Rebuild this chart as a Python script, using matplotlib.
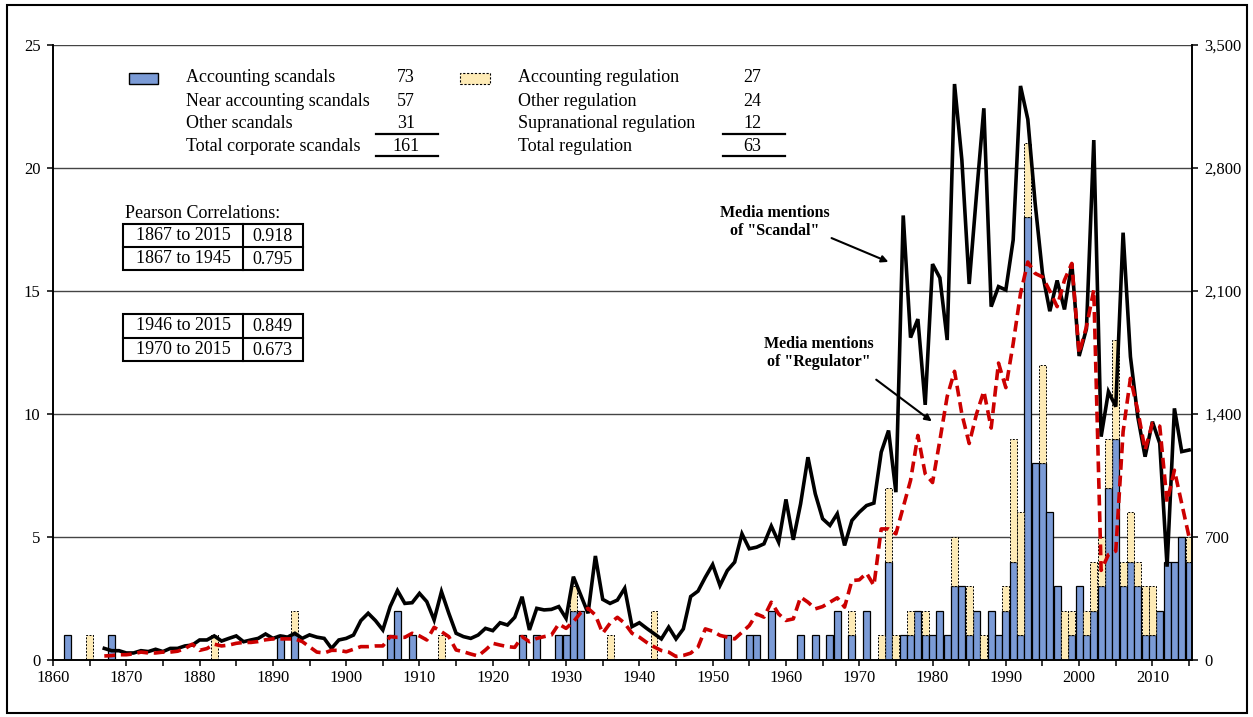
import numpy as np
import matplotlib.pyplot as plt
from matplotlib.patches import Rectangle
from matplotlib.lines import Line2D
from matplotlib.ticker import FuncFormatter, MultipleLocator

plt.rcParams['font.family'] = ['Liberation Serif', 'DejaVu Serif']

# corporate scandals per year (blue bars)
scandal_years = [1862, 1868, 1891, 1893, 1906, 1907, 1909, 1924, 1926, 1929, 1930, 1931, 1932,
                 1952, 1955, 1956, 1958, 1962, 1964, 1966, 1967, 1969, 1971, 1974, 1976, 1977,
                 1978, 1979, 1980, 1981, 1982, 1983, 1984, 1985, 1986, 1988, 1989, 1990, 1991,
                 1992, 1993, 1994, 1995, 1996, 1997, 1999, 2000, 2001, 2002, 2003, 2004, 2005,
                 2006, 2007, 2008, 2009, 2010, 2011, 2012, 2013, 2014, 2015]
scandal_counts = [1, 1, 1, 1, 1, 2, 1, 1, 1, 1, 1, 2, 2,
                  1, 1, 1, 2, 1, 1, 1, 2, 1, 2, 4, 1, 1,
                  2, 1, 1, 2, 1, 3, 3, 1, 2, 2, 1, 2, 4,
                  1, 18, 8, 8, 6, 3, 1, 3, 1, 2, 3, 7, 9,
                  3, 4, 3, 1, 1, 2, 4, 4, 5, 4]

# regulation per year (yellow bars, stacked on top)
reg_years = [1865, 1882, 1893, 1913, 1931, 1936, 1942, 1969, 1973, 1974, 1975, 1977, 1979,
             1983, 1985, 1987, 1990, 1991, 1992, 1993, 1995, 1998, 1999, 2001, 2002, 2003,
             2004, 2005, 2006, 2007, 2008, 2009, 2010, 2015]
reg_counts = [1, 1, 1, 1, 1, 1, 2, 1, 1, 3, 1, 1, 1,
              2, 2, 1, 1, 5, 5, 3, 4, 2, 1, 1, 2, 2,
              2, 4, 1, 2, 1, 2, 2, 1]

# media mentions (right axis), 1867-2015
media_years = list(range(1867, 2016))
scandal_media = [66, 53, 53, 40, 40, 53, 48, 61, 48, 66, 66, 80, 85, 114, 114, 137, 108, 123, 137, 104,
                 114, 123, 148, 123, 137, 130, 152, 123, 143, 130, 123, 66, 114, 123, 142, 224, 266, 224,
                 171, 304, 395, 322, 326, 379, 332, 228, 389, 266, 152, 133, 123, 142, 180, 167, 212, 199,
                 243, 360, 171, 294, 285, 288, 304, 237, 474, 370, 266, 592, 345, 322, 341, 408, 190, 212,
                 180, 150, 120, 187, 120, 177, 361, 392, 471, 543, 424, 509, 557, 718, 633, 642, 661, 762,
                 671, 914, 684, 889, 1154, 946, 804, 766, 832, 652, 794, 841, 879, 893, 1183, 1306, 955,
                 2530, 1835, 1940, 1452, 2253, 2175, 1821, 3278, 2846, 2140, 2650, 3140, 2011, 2125, 2106,
                 2390, 3267, 3077, 2599, 2200, 1985, 2160, 1995, 2257, 1730, 1885, 2959, 1271, 1527, 1442,
                 2432, 1726, 1385, 1157, 1356, 1233, 531, 1432, 1186, 1195]
regulator_media = [23, 25, 30, 30, 35, 45, 40, 40, 45, 45, 50, 65, 90, 55, 65, 90, 80, 85, 95, 100,
                   100, 105, 115, 120, 120, 120, 120, 105, 75, 45, 40, 55, 55, 47, 61, 76, 76, 80,
                   80, 133, 129, 129, 152, 137, 114, 186, 161, 133, 57, 47, 34, 23, 57, 95, 85, 76,
                   72, 133, 104, 123, 133, 142, 205, 180, 218, 269, 294, 256, 152, 209, 243, 209, 152, 130,
                   100, 75, 54, 45, 20, 26, 39, 73, 177, 164, 140, 130, 120, 158, 196, 262, 244, 329,
                   262, 225, 234, 358, 329, 291, 304, 329, 354, 301, 452, 456, 494, 424, 746, 746, 718,
                   870, 1022, 1278, 1060, 1010, 1250, 1500, 1643, 1400, 1232, 1400, 1530, 1320, 1690, 1550,
                   1800, 2085, 2265, 2200, 2180, 2100, 2011, 2162, 2257, 1745, 1897, 2106, 510, 600, 620,
                   1300, 1603, 1420, 1195, 1347, 1330, 900, 1080, 890, 700]

legend_left = [("Accounting scandals", "73"), ("Near accounting scandals", "57"),
               ("Other scandals", "31"), ("Total corporate scandals", "161")]
legend_right = [("Accounting regulation", "27"), ("Other regulation", "24"),
                ("Supranational regulation", "12"), ("Total regulation", "63")]
table1 = [("1867 to 2015", "0.918"), ("1867 to 1945", "0.795")]
table2 = [("1946 to 2015", "0.849"), ("1970 to 2015", "0.673")]

W, H = 1253, 717
fig = plt.figure(figsize=(W / 100, H / 100), dpi=100)


def fx(x):
    return x / W


def fy(y):
    return 1 - y / H


ax = fig.add_axes([fx(53), fy(660), fx(1192) - fx(53), fy(45) - fy(660)])
ax2 = ax.twinx()

years = np.arange(1860, 2016)
blue = np.zeros(len(years))
yellow = np.zeros(len(years))
for y, c in zip(scandal_years, scandal_counts):
    blue[y - 1860] = c
for y, c in zip(reg_years, reg_counts):
    yellow[y - 1860] = c

mb = blue > 0
my = yellow > 0
ax.bar(years[mb], blue[mb], width=0.95, color='#7b9bd6', edgecolor='black', linewidth=0.9, zorder=2)
ax.bar(years[my], yellow[my], bottom=blue[my], width=0.95, color='#feebb6', edgecolor='black',
       linewidth=0.7, linestyle=(0, (2, 1.5)), zorder=2)

ax2.plot(media_years, scandal_media, color='black', lw=2.6, solid_joinstyle='miter')
ax2.plot(media_years, regulator_media, color='#cc0000', lw=2.6, dashes=(3, 1.6))

ax.set_xlim(1860, 2015.4)
ax.set_ylim(0, 25)
ax2.set_ylim(0, 3500)
ax.yaxis.set_major_locator(MultipleLocator(5))
ax2.yaxis.set_major_locator(MultipleLocator(700))
ax2.yaxis.set_major_formatter(FuncFormatter(lambda v, p: '{:,.0f}'.format(v)))
ax.xaxis.set_major_locator(MultipleLocator(10))
ax.xaxis.set_minor_locator(MultipleLocator(5))

ax.grid(axis='y', color='#444444', lw=1.0)
ax.set_axisbelow(True)
for a in (ax, ax2):
    a.spines['top'].set_visible(False)
    for s in ('left', 'right', 'bottom'):
        a.spines[s].set_linewidth(1.2)
ax.tick_params(axis='both', which='both', direction='out', length=4, width=1.1, labelsize=12)
ax.tick_params(axis='x', which='major', pad=3)
ax.tick_params(axis='y', pad=5)
ax2.tick_params(axis='y', direction='out', length=4, width=1.1, labelsize=12, pad=5)

# legend block
rows = [78, 101, 124, 146.5]
ax_t = fig.transFigure
fig.add_artist(Rectangle((fx(129), fy(84)), fx(158) - fx(129), fy(73) - fy(84), transform=ax_t,
                         facecolor='#7b9bd6', edgecolor='black', lw=1.0))
fig.add_artist(Rectangle((fx(460), fy(84)), fx(490) - fx(460), fy(73) - fy(84), transform=ax_t,
                         facecolor='#feebb6', edgecolor='black', lw=0.8, linestyle=(0, (2, 1.5))))
for (lab, num), y in zip(legend_left, rows):
    fig.text(fx(186), fy(y), lab, ha='left', va='center', fontsize=13)
    fig.text(fx(406), fy(y), num, ha='center', va='center', fontsize=13)
for (lab, num), y in zip(legend_right, rows):
    fig.text(fx(518), fy(y), lab, ha='left', va='center', fontsize=13)
    fig.text(fx(752), fy(y), num, ha='center', va='center', fontsize=13)
for x0, x1 in ((376, 438), (723, 785)):
    for y in (134, 156):
        fig.add_artist(Line2D([fx(x0), fx(x1)], [fy(y), fy(y)], transform=ax_t, color='black', lw=1.6))

# correlation tables
fig.text(fx(125), fy(214), "Pearson Correlations:", ha='left', va='center', fontsize=13)


def draw_table(rows_, top, bottom):
    mid = (top + bottom) / 2
    fig.add_artist(Rectangle((fx(123), fy(bottom)), fx(303) - fx(123), fy(top) - fy(bottom),
                             transform=ax_t, fill=False, edgecolor='black', lw=1.5))
    fig.add_artist(Line2D([fx(123), fx(303)], [fy(mid), fy(mid)], transform=ax_t, color='black', lw=1.5))
    fig.add_artist(Line2D([fx(242.7), fx(242.7)], [fy(top), fy(bottom)], transform=ax_t,
                          color='black', lw=1.5))
    for (period, r), yc in zip(rows_, ((top + mid) / 2, (mid + bottom) / 2)):
        fig.text(fx(183), fy(yc), period, ha='center', va='center', fontsize=13)
        fig.text(fx(272.5), fy(yc + 1), r, ha='center', va='center', fontsize=13)


draw_table(table1, 224, 270)
draw_table(table2, 314.3, 361)

# annotations
fig.text(fx(774.5), fy(222), 'Media mentions\nof "Scandal"', ha='center', va='center',
         fontsize=11.5, fontweight='bold', linespacing=1.1)
fig.text(fx(819), fy(353), 'Media mentions\nof "Regulator"', ha='center', va='center',
         fontsize=11.5, fontweight='bold', linespacing=1.1)
ax.annotate('', xy=(fx(891), fy(263)), xytext=(fx(829), fy(237)), xycoords='figure fraction',
            textcoords='figure fraction',
            arrowprops=dict(arrowstyle='-|>', color='black', lw=1.5, mutation_scale=10))
ax.annotate('', xy=(fx(934), fy(423)), xytext=(fx(874), fy(378)), xycoords='figure fraction',
            textcoords='figure fraction',
            arrowprops=dict(arrowstyle='-|>', color='black', lw=1.5, mutation_scale=10))

# outer frame
fig.add_artist(Rectangle((fx(7), fy(713)), fx(1247) - fx(7), fy(5) - fy(713), transform=ax_t,
                         fill=False, edgecolor='black', lw=1.5))

fig.savefig('out.png', dpi=100)
